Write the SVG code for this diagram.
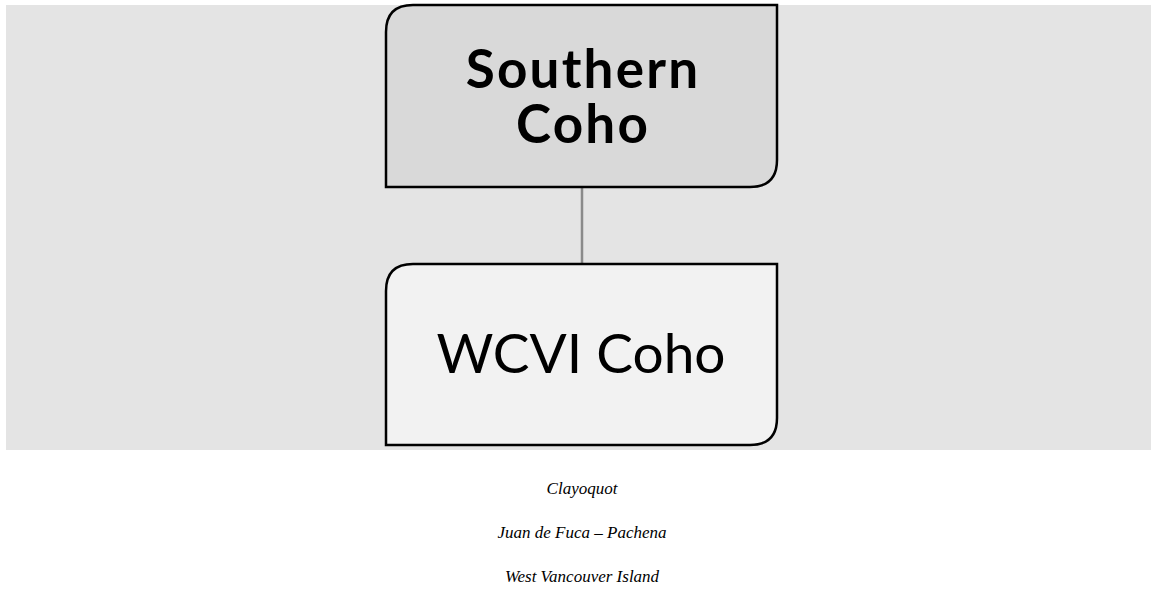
<svg xmlns="http://www.w3.org/2000/svg" width="1153" height="607" viewBox="0 0 1153 607">
<style>
.node{stroke:#000;stroke-width:2.5}
.title{font-family:Lato,"Noto Sans","DejaVu Sans",sans-serif;text-anchor:middle;fill:#000}
.cap{font-family:"Liberation Serif","DejaVu Serif",serif;font-style:italic;font-size:17px;text-anchor:middle;fill:#000}
</style>
<rect x="6" y="5" width="1145" height="445" fill="#e4e4e4"/>
<g id="connectors">
<line x1="582" y1="188" x2="582" y2="264" stroke="#8a8a8a" stroke-width="2.5"/>
</g>
<g id="southern-coho">
<path class="node" fill="#d9d9d9" d="M386 32 Q386 5 413 5 L777 5 L777 160 Q777 187 750 187 L386 187 Z"/>
<text class="title" font-size="53" font-weight="bold" letter-spacing="2.2"><tspan x="583" y="88">Southern</tspan><tspan x="583" y="143">Coho</tspan></text>
</g>
<g id="wcvi-coho">
<path class="node" fill="#f2f2f2" d="M386 291 Q386 264 413 264 L777 264 L777 418 Q777 445 750 445 L386 445 Z"/>
<text class="title" x="581" y="373" font-size="55">WCVI Coho</text>
</g>
<g id="captions">
<text class="cap" x="582" y="494">Clayoquot</text>
<text class="cap" x="582" y="538">Juan de Fuca – Pachena</text>
<text class="cap" x="582" y="582">West Vancouver Island</text>
</g>
</svg>
